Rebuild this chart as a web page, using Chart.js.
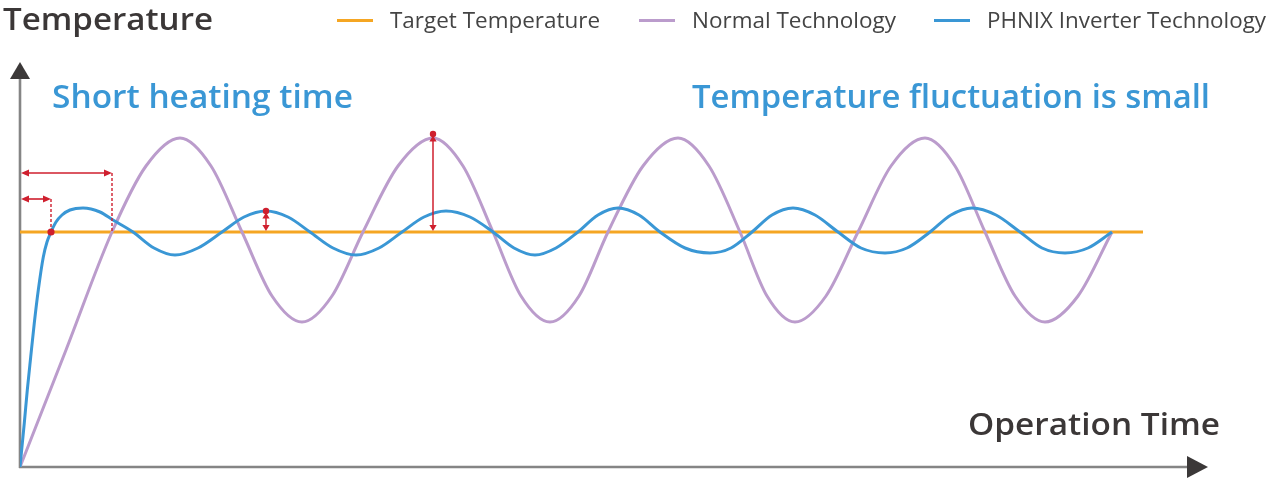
<!DOCTYPE html>
<html><head><meta charset="utf-8">
<script src="https://cdn.jsdelivr.net/npm/chart.js@4.4.1/dist/chart.umd.min.js"></script>
<style>html,body{margin:0;padding:0;background:#fff;} #wrap{width:1271px;height:481px;}</style>
</head><body><div id="wrap"><canvas id="c" width="1271" height="481"></canvas></div>
<script>
// ---- data (time units, temperature units) ----
const seriesNames = ['Target Temperature', 'Normal Technology', 'PHNIX Inverter Technology'];
const targetX = [0, 1123];
const targetY = [235, 235];
const normalX = [0, 46, 92, 126, 160, 191, 222, 252, 282, 312, 343, 378, 413, 443, 473, 501, 530, 559, 588, 623, 658, 689, 720, 747, 775, 806, 838, 871, 905, 935, 965, 995, 1025, 1058, 1092];
const normalY = [0, 117, 235, 301, 329, 301, 235, 171, 145, 171, 235, 301, 329, 301, 235, 171, 145, 171, 235, 301, 329, 301, 235, 171, 145, 171, 235, 301, 329, 301, 235, 171, 145, 171, 235];
const inverterX = [0, 4.3, 7.3, 10.7, 14.3, 18.3, 23.3, 27, 31, 36, 42, 50, 63, 80, 93, 113, 134, 155, 178, 202, 224, 246, 268, 290, 313, 336, 359, 382, 404, 426, 450, 473, 494, 515, 536, 558, 578, 598, 619, 640, 665, 690, 711, 732, 752, 773, 795, 818, 841, 865, 887, 910, 931, 952, 976, 1000, 1022, 1045, 1068, 1092];
const inverterY = [0, 44, 77, 110, 144, 177, 210, 225, 235, 245, 252, 257, 259, 255, 247, 235, 219, 212, 219, 235, 250, 256, 250, 235, 219, 212, 219, 235, 250, 256, 250, 235, 219, 212, 219, 235, 252, 259, 252, 235, 219, 214, 219, 235, 252, 259, 252, 235, 219, 214, 219, 235, 252, 259, 252, 235, 219, 214, 219, 235];
// heating-time markers: time to reach target (inverter, normal) and arrow levels
const heatTimes = [31, 92];
const heatLevels = [268, 294];
// fluctuation markers: time, peak value
const fluctTimes = [246, 413];
const fluctPeaks = [256, 333];
const axisTitles = ['Temperature', 'Operation Time'];
const callouts = ['Short heating time', 'Temperature fluctuation is small'];

const colors = ['#f5a623', '#bb9ccc', '#3a97d5'];
const RED = '#cf1f2e';
const pts = (X, Y) => X.map((x, i) => ({x: x, y: Y[i]}));

function fitText(ctx, text, x, y, width, font, color) {
  ctx.save();
  ctx.font = font; ctx.fillStyle = color;
  ctx.textBaseline = 'alphabetic'; ctx.textAlign = 'left';
  const w = ctx.measureText(text).width;
  ctx.translate(x, y); ctx.scale(width / w, 1);
  ctx.fillText(text, 0, 0);
  ctx.restore();
}
function head(ctx, tx, ty, dx, dy, len, half) {
  const px = -dy, py = dx;
  ctx.beginPath();
  ctx.moveTo(tx, ty);
  ctx.lineTo(tx - dx * len + px * half, ty - dy * len + py * half);
  ctx.lineTo(tx - dx * len - px * half, ty - dy * len - py * half);
  ctx.closePath(); ctx.fill();
}

const decor = {
  id: 'decor',
  beforeDatasetsDraw(chart) {
    const ctx = chart.ctx, xs = chart.scales.x, ys = chart.scales.y;
    const x0 = xs.getPixelForValue(0), y0 = ys.getPixelForValue(0);
    const top = chart.chartArea.top, right = chart.chartArea.right;
    ctx.save();
    ctx.strokeStyle = '#858585'; ctx.lineWidth = 2.6;
    ctx.beginPath(); ctx.moveTo(x0, y0 + 1); ctx.lineTo(x0, top + 16); ctx.stroke();
    ctx.beginPath(); ctx.moveTo(x0 - 1, y0); ctx.lineTo(right - 18, y0); ctx.stroke();
    ctx.fillStyle = '#3b3838';
    head(ctx, x0, top, 0, -1, 17, 10);
    head(ctx, right, y0, 1, 0, 21, 11);
    ctx.restore();
  },
  afterDatasetsDraw(chart) {
    const ctx = chart.ctx, xs = chart.scales.x, ys = chart.scales.y;
    const x0 = xs.getPixelForValue(0);
    const yt = ys.getPixelForValue(targetY[0]);
    ctx.save();
    ctx.fillStyle = RED; ctx.strokeStyle = RED;
    heatTimes.forEach((t, i) => {
      const xp = xs.getPixelForValue(t), yl = ys.getPixelForValue(heatLevels[i]);
      ctx.lineWidth = 1.6; ctx.setLineDash([]);
      ctx.beginPath(); ctx.moveTo(x0 + 6, yl); ctx.lineTo(xp - 6, yl); ctx.stroke();
      head(ctx, x0 + 1, yl, -1, 0, 8, 3.6);
      head(ctx, xp, yl, 1, 0, 8, 3.6);
      ctx.lineWidth = 1.4; ctx.setLineDash([3, 2]);
      ctx.beginPath(); ctx.moveTo(xp, yl); ctx.lineTo(xp, yt); ctx.stroke();
      ctx.setLineDash([]);
      if (i === 0) { ctx.beginPath(); ctx.arc(xp, yt, 3.6, 0, Math.PI * 2); ctx.fill(); }
    });
    fluctTimes.forEach((t, i) => {
      const xp = xs.getPixelForValue(t), yp = ys.getPixelForValue(fluctPeaks[i]);
      ctx.beginPath(); ctx.arc(xp, yp, 3.2, 0, Math.PI * 2); ctx.fill();
      ctx.lineWidth = 1.5;
      ctx.beginPath(); ctx.moveTo(xp, yp + 4); ctx.lineTo(xp, yt - 4); ctx.stroke();
      head(ctx, xp, yp + 1.5, 0, -1, 6, 3.6);
      head(ctx, xp, yt - 1, 0, 1, 6, 3.6);
    });
    ctx.restore();
    fitText(ctx, axisTitles[0], 3, 29.5, 210, '600 31px "Open Sans"', '#3b3737');
    fitText(ctx, axisTitles[1], 968, 435, 252, '600 31px "Open Sans"', '#3b3737');
    fitText(ctx, callouts[0], 52, 108, 301, '600 32px "Open Sans"', '#3a97d5');
    fitText(ctx, callouts[1], 692, 108, 518, '600 32px "Open Sans"', '#3a97d5');
    const lx = [337, 639, 934], tx = [390, 692, 987], tw = [210, 204, 279];
    chart.data.datasets.forEach((ds, i) => {
      ctx.save();
      ctx.strokeStyle = ds.borderColor; ctx.lineWidth = 3;
      ctx.beginPath(); ctx.moveTo(lx[i], 20.5); ctx.lineTo(lx[i] + 36, 20.5); ctx.stroke();
      ctx.restore();
      fitText(ctx, ds.label, tx[i], 28, tw[i], '400 21px "Open Sans"', '#444444');
    });
  }
};

new Chart(document.getElementById('c'), {
  type: 'line',
  data: {
    datasets: [
      {label: seriesNames[0], data: pts(targetX, targetY), borderColor: colors[0], borderWidth: 3, order: 2, tension: 0},
      {label: seriesNames[1], data: pts(normalX, normalY), borderColor: colors[1], borderWidth: 3, order: 1, cubicInterpolationMode: 'monotone'},
      {label: seriesNames[2], data: pts(inverterX, inverterY), borderColor: colors[2], borderWidth: 3, order: 0, cubicInterpolationMode: 'monotone'}
    ]
  },
  options: {
    responsive: false, animation: false,
    layout: {padding: {left: 20, right: 63, top: 62, bottom: 14}},
    elements: {point: {radius: 0, hoverRadius: 0}},
    scales: {
      x: {type: 'linear', min: 0, max: 1188, display: false},
      y: {type: 'linear', min: 0, max: 405, display: false}
    },
    plugins: {legend: {display: false}, tooltip: {enabled: false}, title: {display: false}}
  },
  plugins: [decor]
});
</script>
</body></html>
